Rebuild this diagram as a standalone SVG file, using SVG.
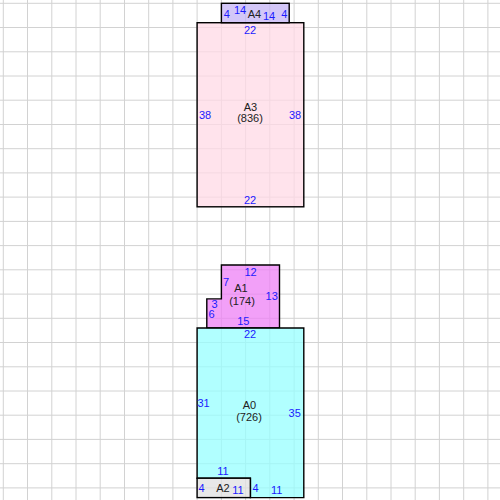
<svg xmlns="http://www.w3.org/2000/svg" width="500" height="500" viewBox="0 0 500 500">
<style>
.grid line{stroke:#d2d2d2;stroke-width:1}
.shape{stroke:#000;stroke-width:1.4;fill-opacity:0.75}
.lbl{font-family:"Liberation Sans",Arial,sans-serif;font-size:11px;fill:#1a1aff;text-anchor:middle}
.name{font-family:"Liberation Sans",Arial,sans-serif;font-size:11px;fill:#222;text-anchor:middle}
</style>
<rect width="500" height="500" fill="#fff"/>
<g class="grid">
<line x1="3.3" y1="0" x2="3.3" y2="500"/><line x1="27.5" y1="0" x2="27.5" y2="500"/><line x1="51.8" y1="0" x2="51.8" y2="500"/><line x1="76" y1="0" x2="76" y2="500"/><line x1="100.2" y1="0" x2="100.2" y2="500"/><line x1="124.5" y1="0" x2="124.5" y2="500"/><line x1="148.7" y1="0" x2="148.7" y2="500"/><line x1="172.9" y1="0" x2="172.9" y2="500"/><line x1="197.1" y1="0" x2="197.1" y2="500"/><line x1="221.4" y1="0" x2="221.4" y2="500"/><line x1="245.6" y1="0" x2="245.6" y2="500"/><line x1="269.8" y1="0" x2="269.8" y2="500"/><line x1="294.1" y1="0" x2="294.1" y2="500"/><line x1="318.3" y1="0" x2="318.3" y2="500"/><line x1="342.5" y1="0" x2="342.5" y2="500"/><line x1="366.8" y1="0" x2="366.8" y2="500"/><line x1="391" y1="0" x2="391" y2="500"/><line x1="415.2" y1="0" x2="415.2" y2="500"/><line x1="439.4" y1="0" x2="439.4" y2="500"/><line x1="463.7" y1="0" x2="463.7" y2="500"/><line x1="487.9" y1="0" x2="487.9" y2="500"/>
<line y1="3.3" x1="0" y2="3.3" x2="500"/><line y1="27.5" x1="0" y2="27.5" x2="500"/><line y1="51.8" x1="0" y2="51.8" x2="500"/><line y1="76" x1="0" y2="76" x2="500"/><line y1="100.2" x1="0" y2="100.2" x2="500"/><line y1="124.5" x1="0" y2="124.5" x2="500"/><line y1="148.7" x1="0" y2="148.7" x2="500"/><line y1="172.9" x1="0" y2="172.9" x2="500"/><line y1="197.1" x1="0" y2="197.1" x2="500"/><line y1="221.4" x1="0" y2="221.4" x2="500"/><line y1="245.6" x1="0" y2="245.6" x2="500"/><line y1="269.8" x1="0" y2="269.8" x2="500"/><line y1="294.1" x1="0" y2="294.1" x2="500"/><line y1="318.3" x1="0" y2="318.3" x2="500"/><line y1="342.5" x1="0" y2="342.5" x2="500"/><line y1="366.8" x1="0" y2="366.8" x2="500"/><line y1="391" x1="0" y2="391" x2="500"/><line y1="415.2" x1="0" y2="415.2" x2="500"/><line y1="439.4" x1="0" y2="439.4" x2="500"/><line y1="463.7" x1="0" y2="463.7" x2="500"/><line y1="487.9" x1="0" y2="487.9" x2="500"/>
</g>
<g id="A3">
<rect class="shape" x="197.1" y="22.7" width="106.7" height="184.1" fill="#ffd9e6"/>
<text class="name" x="250.5" y="111">A3</text>
<text class="name" x="250" y="121.5">(836)</text>
<text class="lbl" x="250" y="33.5">22</text>
<text class="lbl" x="250" y="204">22</text>
<text class="lbl" x="205" y="119">38</text>
<text class="lbl" x="295" y="119">38</text>
</g>
<g id="A4">
<rect class="shape" x="221.4" y="3.3" width="67.8" height="19.4" fill="#c4b4f6"/>
<text class="name" x="254.5" y="17.5">A4</text>
<text class="lbl" x="226.7" y="17.5">4</text>
<text class="lbl" x="240" y="14">14</text>
<text class="lbl" x="269" y="19.7">14</text>
<text class="lbl" x="284.2" y="17.5">4</text>
</g>
<g id="A1">
<polygon class="shape" points="221.4,265 279.5,265 279.5,328 206.8,328 206.8,298.9 221.4,298.9" fill="#ee80f6"/>
<text class="name" x="241" y="292">A1</text>
<text class="name" x="242" y="304.5">(174)</text>
<text class="lbl" x="250.5" y="275.5">12</text>
<text class="lbl" x="226" y="286">7</text>
<text class="lbl" x="271.7" y="300.3">13</text>
<text class="lbl" x="214.5" y="308.3">3</text>
<text class="lbl" x="211.5" y="317.6">6</text>
<text class="lbl" x="243.3" y="325">15</text>
</g>
<g id="A0">
<polygon class="shape" points="197.1,328 303.8,328 303.8,497.6 250.4,497.6 250.4,478.2 197.1,478.2" fill="#97ffff"/>
<text class="name" x="249.5" y="409">A0</text>
<text class="name" x="249" y="421">(726)</text>
<text class="lbl" x="250" y="338">22</text>
<text class="lbl" x="203.5" y="407.3">31</text>
<text class="lbl" x="294.7" y="416.5">35</text>
<text class="lbl" x="223" y="474.7">11</text>
<text class="lbl" x="255.5" y="491.5">4</text>
<text class="lbl" x="276.7" y="494.3">11</text>
</g>
<g id="A2">
<rect class="shape" x="197.1" y="478.2" width="53.3" height="19.4" fill="#e0e0e0"/>
<text class="name" x="223" y="491.5">A2</text>
<text class="lbl" x="201.5" y="492.3">4</text>
<text class="lbl" x="238" y="494.3">11</text>
</g>
</svg>
